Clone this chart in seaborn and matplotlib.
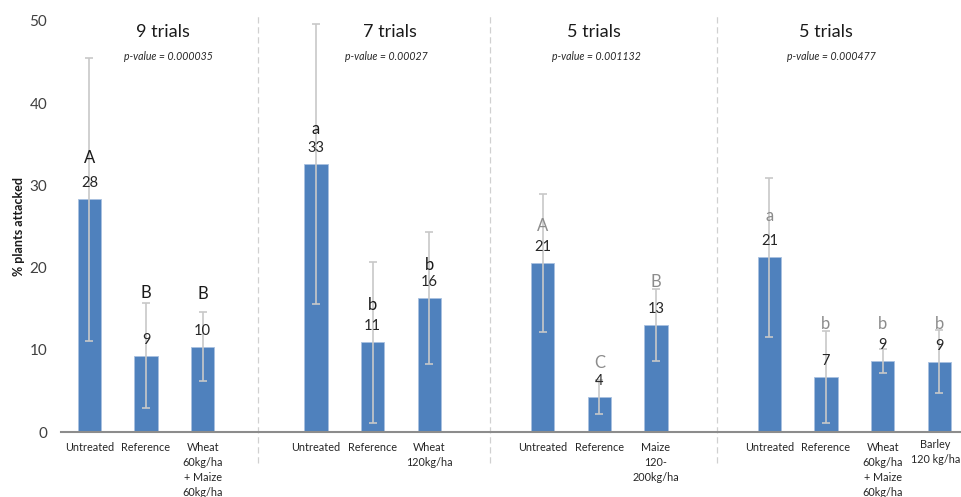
import matplotlib
matplotlib.use("Agg")
import matplotlib.pyplot as plt
import pandas as pd
import seaborn as sns

# --- data -------------------------------------------------------------
group_titles = ["9 trials", "7 trials", "5 trials", "5 trials"]
p_values = ["p-value = 0.000035", "p-value = 0.00027",
            "p-value = 0.001132", "p-value = 0.000477"]

treatments = [
    ["Untreated", "Reference", "Wheat\n60kg/ha\n+ Maize\n60kg/ha"],
    ["Untreated", "Reference", "Wheat\n120kg/ha"],
    ["Untreated", "Reference", "Maize\n120-\n200kg/ha"],
    ["Untreated", "Reference", "Wheat\n60kg/ha\n+ Maize\n60kg/ha", "Barley\n120 kg/ha"],
]
means = [
    [28.3, 9.3, 10.4],
    [32.6, 10.9, 16.3],
    [20.6, 4.25, 13.0],
    [21.25, 6.7, 8.6, 8.55],
]
errors = [
    [17.2, 6.4, 4.25],
    [17.0, 9.75, 8.0],
    [8.4, 2.1, 4.35],
    [9.7, 5.6, 1.45, 3.85],
]
value_labels = [
    ["28", "9", "10"],
    ["33", "11", "16"],
    ["21", "4", "13"],
    ["21", "7", "9", "9"],
]
letters = [
    ["A", "B", "B"],
    ["a", "b", "b"],
    ["A", "C", "B"],
    ["a", "b", "b", "b"],
]

# --- layout -----------------------------------------------------------
letter_heights = [
    [33.3, 16.9, 16.8],
    [36.9, 15.5, 20.3],
    [25.1, 8.4, 18.3],
    [26.3, 13.1, 13.1, 13.1],
]
letter_colors = ["#1a1a1a", "#1a1a1a", "#8c8c8c", "#8c8c8c"]
title_x = [1.3, 5.3, 8.9, 13.0]
pval_x = [1.4, 5.25, 8.95, 13.1]

BAR = "#4F81BD"
ERR = "#C8C8C8"
TICK_FONT = dict(fontsize=7.8, color="#262626", linespacing=1.45)

# build one slot per bar, with an empty slot between groups
rows, order, tick_pos, tick_lab = [], [], [], []
slot = 0
for g, names in enumerate(treatments):
    for i, name in enumerate(names):
        key = f"g{g}_{i}"
        rows.append({"key": key, "value": means[g][i]})
        order.append(key)
        tick_pos.append(slot)
        tick_lab.append(name)
        slot += 1
    if g < len(treatments) - 1:
        order.append(" " * (g + 1))
        slot += 1
df = pd.DataFrame(rows)

sns.set_theme(style="white")
plt.rcParams["font.family"] = ["Lato", "DejaVu Sans"]

fig = plt.figure(figsize=(9.62, 4.97), dpi=100)
ax = fig.add_axes([61 / 962, 1 - 432 / 497, 1 - 61 / 962, (432 - 21) / 497])

sns.barplot(data=df, x="key", y="value", order=order, color=BAR,
            width=0.41, errorbar=None, saturation=1, ax=ax,
            edgecolor="#a9c1e0", linewidth=0.6)

# error bars, values and significance letters
k = 0
for g, names in enumerate(treatments):
    for i in range(len(names)):
        x = tick_pos[k]
        m = means[g][i]
        ax.errorbar(x, m, yerr=errors[g][i], fmt="none", ecolor=ERR,
                    elinewidth=1.2, capsize=2.8, capthick=1.2, zorder=3)
        ax.annotate(value_labels[g][i], (x, m), xytext=(0, 16),
                    textcoords="offset pixels",
                    ha="center", va="center", fontsize=10.5, color="#262626",
                    zorder=4)
        ax.text(x, letter_heights[g][i], letters[g][i], ha="center",
                va="center", fontsize=12, color=letter_colors[g], zorder=4)
        k += 1

# group titles and p-values
for g in range(len(treatments)):
    ax.text(title_x[g], 48.7, group_titles[g], ha="center", va="center",
            fontsize=13, color="#1a1a1a")
    ax.text(pval_x[g], 45.7, p_values[g], ha="center", va="center",
            fontsize=7.6, style="italic", color="#262626")

# dashed dividers between groups
sep_slots = [tick_pos[2] + 0.97, tick_pos[5] + 1.07, tick_pos[8] + 1.07]
for s in sep_slots:
    ax.plot([s, s], [-3.8, 51.0], clip_on=False,
            color="#d0d0d0", lw=0.9, ls=(0, (5, 3)), zorder=0)

ax.set_ylim(0, 50)
ax.set_xlim(-0.5, 15.4)
ax.set_yticks([0, 10, 20, 30, 40, 50])
ax.set_xticks(tick_pos)
# the rightmost category label is placed by hand so it stays inside the edge
ax.set_xticklabels(tick_lab[:-1] + [""], va="top", **TICK_FONT)
ax.annotate(tick_lab[-1], (tick_pos[-1], 0), xytext=(-4, -7),
            textcoords="offset pixels", ha="center", va="top",
            annotation_clip=False, **TICK_FONT)
ax.tick_params(axis="y", labelsize=11, labelcolor="#404040", length=0, pad=10)
ax.tick_params(axis="x", length=0, pad=7)
ax.set_xlabel("")
ax.set_ylabel("% plants attacked", fontsize=9, fontweight="bold",
              color="#1a1a1a")
ax.yaxis.set_label_coords(-0.040, 0.5)

for side in ["top", "right", "left"]:
    ax.spines[side].set_visible(False)
ax.spines["bottom"].set_color("#8c8c8c")
ax.spines["bottom"].set_linewidth(1.5)

fig.savefig("out.png", dpi=100)
